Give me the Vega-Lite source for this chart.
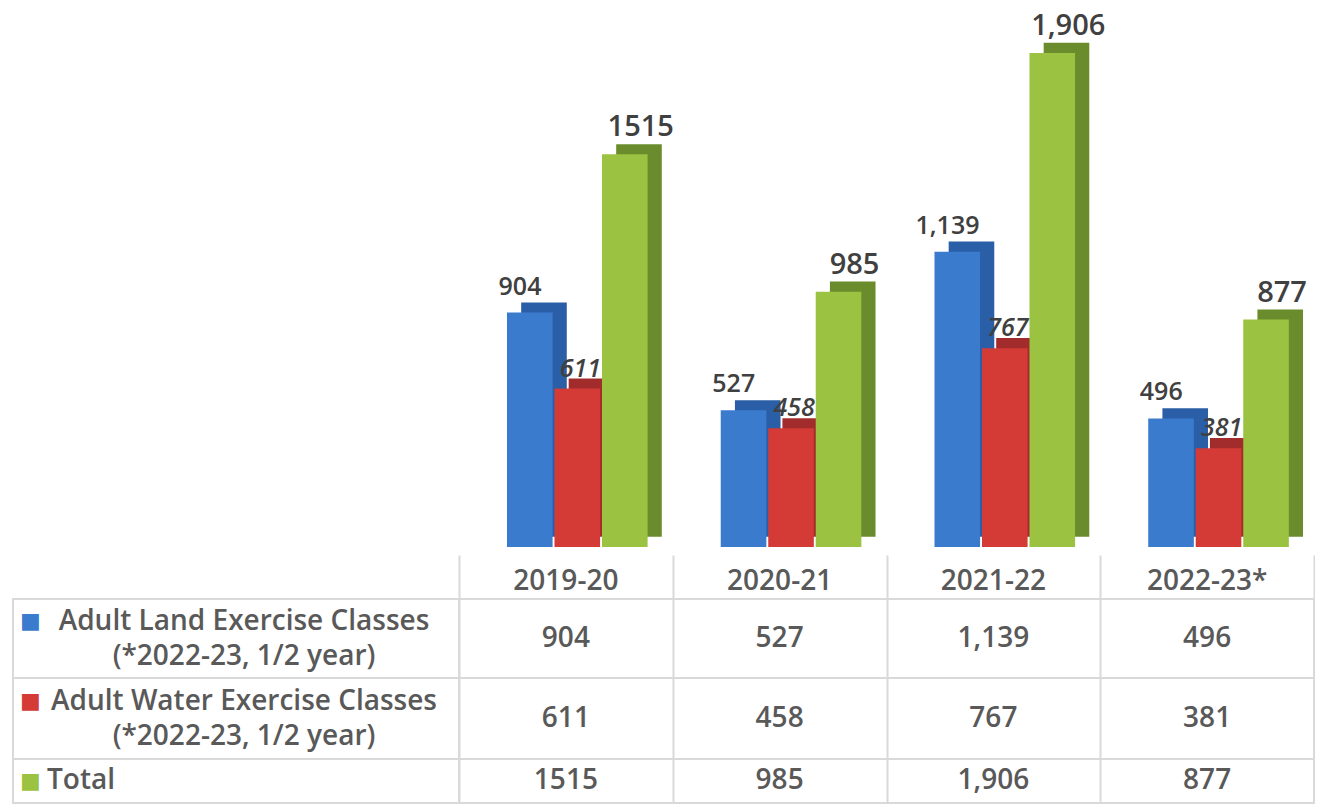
{
  "$schema": "https://vega.github.io/schema/vega-lite/v6.json",
  "padding": {"left": 12, "top": 0, "right": 0, "bottom": 0},
  "background": "white",
  "spacing": 0,
  "columns": 2,
  "bounds": "flush",
  "config": {"font": "Open Sans", "concat": {"spacing": 0}},
  "datasets": {
    "d": [
      {"year": "2019-20", "series": "Land", "value": 904, "label": "904", "name": "Adult Land Exercise Classes\n(*2022-23, 1/2 year)"},
      {"year": "2019-20", "series": "Water", "value": 611, "label": "611", "name": "Adult Water Exercise Classes\n(*2022-23, 1/2 year)"},
      {"year": "2019-20", "series": "Total", "value": 1515, "label": "1515", "name": "Total"},
      {"year": "2020-21", "series": "Land", "value": 527, "label": "527", "name": "Adult Land Exercise Classes\n(*2022-23, 1/2 year)"},
      {"year": "2020-21", "series": "Water", "value": 458, "label": "458", "name": "Adult Water Exercise Classes\n(*2022-23, 1/2 year)"},
      {"year": "2020-21", "series": "Total", "value": 985, "label": "985", "name": "Total"},
      {"year": "2021-22", "series": "Land", "value": 1139, "label": "1,139", "name": "Adult Land Exercise Classes\n(*2022-23, 1/2 year)"},
      {"year": "2021-22", "series": "Water", "value": 767, "label": "767", "name": "Adult Water Exercise Classes\n(*2022-23, 1/2 year)"},
      {"year": "2021-22", "series": "Total", "value": 1906, "label": "1,906", "name": "Total"},
      {"year": "2022-23*", "series": "Land", "value": 496, "label": "496", "name": "Adult Land Exercise Classes\n(*2022-23, 1/2 year)"},
      {"year": "2022-23*", "series": "Water", "value": 381, "label": "381", "name": "Adult Water Exercise Classes\n(*2022-23, 1/2 year)"},
      {"year": "2022-23*", "series": "Total", "value": 877, "label": "877", "name": "Total"}
    ]
  },
  "concat": [
    {
      "width": 446, "height": 555,
      "data": {"values": [{}]},
      "mark": {"type": "text"},
      "encoding": {"text": {"value": ""}},
      "view": {"stroke": null}
    },
    {
      "width": 855, "height": 555,
      "data": {"name": "d"},
      "view": {"stroke": null},
      "encoding": {
        "x": {"field": "year", "type": "nominal", "axis": null,
              "scale": {"domain": ["2019-20", "2020-21", "2021-22", "2022-23*"], "paddingInner": 0, "paddingOuter": 0}}
      },
      "layer": [
        {
          "mark": {"type": "bar"},
          "encoding": {
            "xOffset": {"field": "series", "type": "nominal",
                        "scale": {"domain": ["Land", "Water", "Total"], "paddingInner": 0.04, "paddingOuter": 0.77, "align": 0.85}},
            "y": {"field": "value", "type": "quantitative", "axis": null, "scale": {"domain": [-70, 2071], "nice": false, "zero": false}},
            "color": {"field": "series", "type": "nominal", "legend": null,
                      "scale": {"domain": ["Land", "Water", "Total"], "range": ["#2a5ea6", "#a22c2b", "#6a8c2c"]}}
          }
        },
        {
          "mark": {"type": "bar"},
          "encoding": {
            "xOffset": {"field": "series", "type": "nominal",
                        "scale": {"domain": ["Land", "Water", "Total"], "paddingInner": 0.04, "paddingOuter": 0.77, "align": 0.656}},
            "y": {"field": "value", "type": "quantitative", "axis": null, "scale": {"domain": [-31, 2110], "nice": false, "zero": false}},
            "color": {"field": "series", "type": "nominal", "legend": null,
                      "scale": {"domain": ["Land", "Water", "Total"], "range": ["#3a7bcd", "#d43b37", "#9bc240"]}}
          }
        },
        {
          "transform": [{"filter": "datum.series !== 'Water'"}],
          "mark": {"type": "text", "font": "Open Sans", "fontWeight": 600, "fill": "#404040", "baseline": "alphabetic", "dy": -18},
          "encoding": {
            "xOffset": {"field": "series", "type": "nominal",
                        "scale": {"domain": ["Land", "Water", "Total"], "paddingInner": 0.04, "paddingOuter": 0.77, "align": 0.656}},
            "y": {"field": "value", "type": "quantitative", "axis": null, "scale": {"domain": [-31, 2110], "nice": false, "zero": false}},
            "text": {"field": "label"},
            "size": {"field": "series", "type": "nominal", "legend": null,
                     "scale": {"domain": ["Land", "Total"], "range": [25, 29]}}
          }
        },
        {
          "transform": [{"filter": "datum.series === 'Water'"}],
          "mark": {"type": "text", "font": "Open Sans", "fontWeight": 600, "fontStyle": "italic", "fontSize": 25, "fill": "#404040", "baseline": "alphabetic", "dy": -12},
          "encoding": {
            "xOffset": {"field": "series", "type": "nominal",
                        "scale": {"domain": ["Land", "Water", "Total"], "paddingInner": 0.04, "paddingOuter": 0.77, "align": 0.656}},
            "y": {"field": "value", "type": "quantitative", "axis": null, "scale": {"domain": [-31, 2110], "nice": false, "zero": false}},
            "text": {"field": "label"}
          }
        }
      ],
      "resolve": {"scale": {"y": "independent", "xOffset": "independent", "color": "independent", "size": "independent"}}
    },
    {
      "width": 446, "height": 44,
      "data": {"values": [{}]},
      "mark": {"type": "text"},
      "encoding": {"text": {"value": ""}},
      "view": {"stroke": null}
    },
    {
      "width": 855, "height": 44,
      "data": {"name": "d"},
      "transform": [{"filter": "datum.series === 'Land'"}],
      "view": {"stroke": null},
      "mark": {"type": "text", "font": "Open Sans", "fontSize": 28, "fontWeight": 600, "fill": "#595959", "baseline": "middle", "dy": 5},
      "encoding": {
        "x": {"field": "year", "type": "nominal",
              "scale": {"domain": ["2019-20", "2020-21", "2021-22", "2022-23*"], "paddingInner": 0, "paddingOuter": 0},
              "axis": {"labels": false, "ticks": false, "domain": false, "title": null, "grid": true, "tickBand": "extent", "gridColor": "#d9d9d9", "gridWidth": 2}},
        "text": {"field": "year"}
      }
    },
    {
      "width": 446, "height": 79,
      "data": {"name": "d"},
      "transform": [{"filter": "datum.series === 'Land' && datum.year === '2019-20'"}],
      "view": {"stroke": "#d9d9d9", "strokeWidth": 2},
      "layer": [
        {"mark": {"type": "text", "font": "Open Sans", "fontSize": 28, "fontWeight": 600, "fill": "#595959", "align": "center", "baseline": "middle", "lineBreak": "\n", "lineHeight": 35, "dx": 8, "dy": -17},
         "encoding": {"text": {"field": "name"}}},
        {"mark": {"type": "text", "text": "■", "font": "DejaVu Sans", "fontSize": 22, "fill": "#3a7bcd", "align": "left", "baseline": "middle", "dx": -216, "dy": -18},
         "encoding": {}}
      ]
    },
    {
      "width": 855, "height": 79,
      "data": {"name": "d"},
      "transform": [{"filter": "datum.series === 'Land'"}],
      "view": {"stroke": "#d9d9d9", "strokeWidth": 2},
      "mark": {"type": "text", "font": "Open Sans", "fontSize": 28, "fontWeight": 600, "fill": "#595959", "baseline": "middle"},
      "encoding": {
        "x": {"field": "year", "type": "nominal",
              "scale": {"domain": ["2019-20", "2020-21", "2021-22", "2022-23*"], "paddingInner": 0, "paddingOuter": 0},
              "axis": {"labels": false, "ticks": false, "domain": false, "title": null, "grid": true, "tickBand": "extent", "gridColor": "#d9d9d9", "gridWidth": 2}},
        "text": {"field": "label"}
      }
    },
    {
      "width": 446, "height": 81,
      "data": {"name": "d"},
      "transform": [{"filter": "datum.series === 'Water' && datum.year === '2019-20'"}],
      "view": {"stroke": "#d9d9d9", "strokeWidth": 2},
      "layer": [
        {"mark": {"type": "text", "font": "Open Sans", "fontSize": 28, "fontWeight": 600, "fill": "#595959", "align": "center", "baseline": "middle", "lineBreak": "\n", "lineHeight": 35, "dx": 8, "dy": -17},
         "encoding": {"text": {"field": "name"}}},
        {"mark": {"type": "text", "text": "■", "font": "DejaVu Sans", "fontSize": 22, "fill": "#d43b37", "align": "left", "baseline": "middle", "dx": -216, "dy": -18},
         "encoding": {}}
      ]
    },
    {
      "width": 855, "height": 81,
      "data": {"name": "d"},
      "transform": [{"filter": "datum.series === 'Water'"}],
      "view": {"stroke": "#d9d9d9", "strokeWidth": 2},
      "mark": {"type": "text", "font": "Open Sans", "fontSize": 28, "fontWeight": 600, "fill": "#595959", "baseline": "middle"},
      "encoding": {
        "x": {"field": "year", "type": "nominal",
              "scale": {"domain": ["2019-20", "2020-21", "2021-22", "2022-23*"], "paddingInner": 0, "paddingOuter": 0},
              "axis": {"labels": false, "ticks": false, "domain": false, "title": null, "grid": true, "tickBand": "extent", "gridColor": "#d9d9d9", "gridWidth": 2}},
        "text": {"field": "label"}
      }
    },
    {
      "width": 446, "height": 44,
      "data": {"name": "d"},
      "transform": [{"filter": "datum.series === 'Total' && datum.year === '2019-20'"}],
      "view": {"stroke": "#d9d9d9", "strokeWidth": 2},
      "layer": [
        {"mark": {"type": "text", "font": "Open Sans", "fontSize": 28, "fontWeight": 600, "fill": "#595959", "align": "left", "baseline": "middle", "dx": -189},
         "encoding": {"text": {"field": "name"}}},
        {"mark": {"type": "text", "text": "■", "font": "DejaVu Sans", "fontSize": 22, "fill": "#9bc240", "align": "left", "baseline": "middle", "dx": -216, "dy": 0},
         "encoding": {}}
      ]
    },
    {
      "width": 855, "height": 44,
      "data": {"name": "d"},
      "transform": [{"filter": "datum.series === 'Total'"}],
      "view": {"stroke": "#d9d9d9", "strokeWidth": 2},
      "mark": {"type": "text", "font": "Open Sans", "fontSize": 28, "fontWeight": 600, "fill": "#595959", "baseline": "middle"},
      "encoding": {
        "x": {"field": "year", "type": "nominal",
              "scale": {"domain": ["2019-20", "2020-21", "2021-22", "2022-23*"], "paddingInner": 0, "paddingOuter": 0},
              "axis": {"labels": false, "ticks": false, "domain": false, "title": null, "grid": true, "tickBand": "extent", "gridColor": "#d9d9d9", "gridWidth": 2}},
        "text": {"field": "label"}
      }
    }
  ]
}
